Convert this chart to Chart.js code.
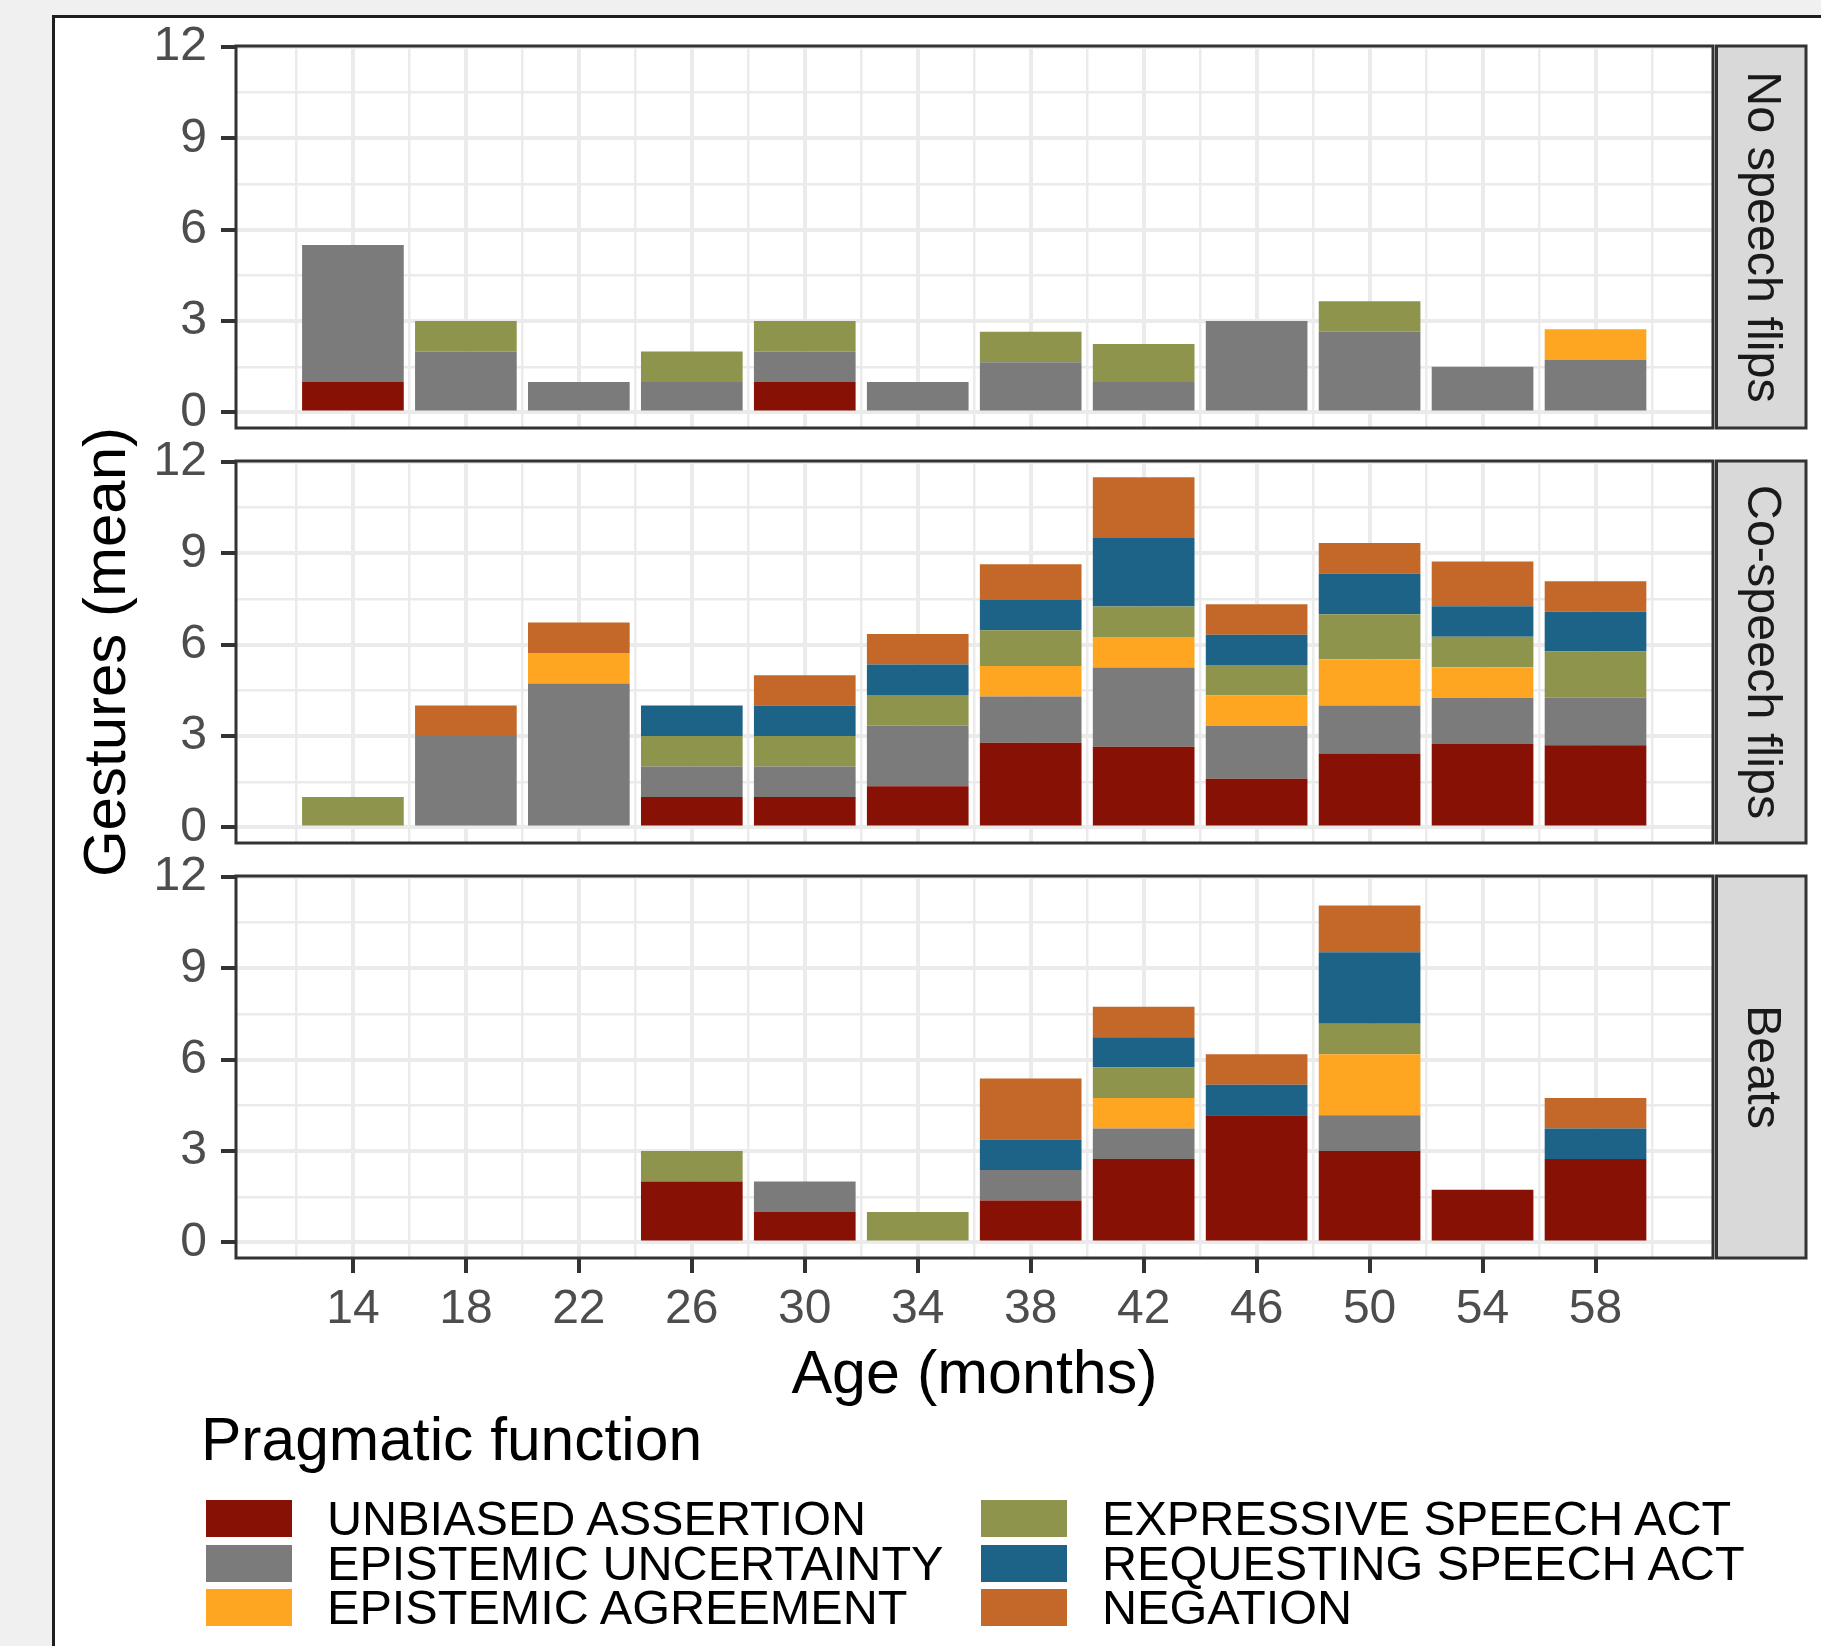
<!DOCTYPE html>
<html>
<head>
<meta charset="utf-8">
<title>Gestures by age</title>
<script src="https://cdn.jsdelivr.net/npm/chart.js@4.4.1/dist/chart.umd.min.js"></script>
<style>
  html, body { margin: 0; padding: 0; }
  body {
    width: 1821px; height: 1646px; position: relative; overflow: hidden;
    background: #f0f0f0; font-family: "Liberation Sans", Arial, sans-serif;
  }
  #frame {
    position: absolute; left: 52px; top: 15px; right: 0; bottom: 0;
    background: #fff; border-left: 3px solid #1e1e1e; border-top: 3px solid #1e1e1e;
  }
  canvas { position: absolute; left: 0; }
  #legendTitle {
    position: absolute; left: 201px; top: 1409px;
    font-size: 60.5px; line-height: 60px; color: #000; white-space: nowrap;
  }
  .item { position: absolute; height: 37px; line-height: 37px; font-size: 48.6px; color: #000; white-space: nowrap; }
  .key { position: absolute; left: 0; top: 0; width: 86px; height: 37px; }
  .label { position: absolute; top: 0; }
</style>
</head>
<body>
<div id="frame"></div>
<canvas id="panel0" width="1821" height="462" style="top:6px"></canvas>
<canvas id="panel1" width="1821" height="462" style="top:421px"></canvas>
<canvas id="panel2" width="1821" height="575" style="top:836px"></canvas>
<div id="legendTitle">Pragmatic function</div>
<div id="legend"></div>

<script>
// ages on the x axis (months) and grid positions
const ages = [14, 18, 22, 26, 30, 34, 38, 42, 46, 50, 54, 58];
const xMinorTicks = [12, 16, 20, 24, 28, 32, 36, 40, 44, 48, 52, 56, 60];
const yTicks = [0, 3, 6, 9, 12];
const yMinorTicks = [1.5, 4.5, 7.5, 10.5];

const stripNames = ["No speech flips", "Co-speech flips", "Beats"];
const functionNames = [
  "UNBIASED ASSERTION", "EPISTEMIC UNCERTAINTY", "EPISTEMIC AGREEMENT",
  "EXPRESSIVE SPEECH ACT", "REQUESTING SPEECH ACT", "NEGATION"
];
const functionColors = ["#861104", "#7b7b7b", "#fea621", "#8e944b", "#1d6387", "#c36829"];

// No speech flips
const nsUnbiased    = [1, 0, 0, 0, 1, 0, 0, 0, 0, 0, 0, 0];
const nsUncertainty = [4.5, 2, 1, 1, 1, 1, 1.65, 1, 3, 2.65, 1.5, 1.73];
const nsAgreement   = [0, 0, 0, 0, 0, 0, 0, 0, 0, 0, 0, 1];
const nsExpressive  = [0, 1, 0, 1, 1, 0, 1, 1.25, 0, 1, 0, 0];
const nsRequesting  = [0, 0, 0, 0, 0, 0, 0, 0, 0, 0, 0, 0];
const nsNegation    = [0, 0, 0, 0, 0, 0, 0, 0, 0, 0, 0, 0];

// Co-speech flips
const csUnbiased    = [0, 0, 0, 1, 1, 1.35, 2.78, 2.65, 1.6, 2.43, 2.74, 2.7];
const csUncertainty = [0, 3, 4.73, 1, 1, 2, 1.52, 2.6, 1.73, 1.57, 1.52, 1.56];
const csAgreement   = [0, 0, 1, 0, 0, 0, 1, 1, 1, 1.52, 1, 0];
const csExpressive  = [1, 0, 0, 1, 1, 1, 1.17, 1, 1, 1.48, 1, 1.52];
const csRequesting  = [0, 0, 0, 1, 1, 1, 1, 2.25, 1, 1.34, 1, 1.3];
const csNegation    = [0, 1, 1, 0, 1, 1, 1.17, 2, 1, 1, 1.47, 1];

// Beats
const bUnbiased    = [0, 0, 0, 2, 1, 0, 1.38, 2.74, 4.18, 3, 1.73, 2.74];
const bUncertainty = [0, 0, 0, 0, 1, 0, 1, 1, 0, 1.18, 0, 0];
const bAgreement   = [0, 0, 0, 0, 0, 0, 0, 1, 0, 2, 0, 0];
const bExpressive  = [0, 0, 0, 1, 0, 1, 0, 1, 0, 1, 0, 0];
const bRequesting  = [0, 0, 0, 0, 0, 0, 1, 1, 1, 2.35, 0, 1];
const bNegation    = [0, 0, 0, 0, 0, 0, 2, 1, 1, 1.53, 0, 1];

const panelSeries = [
  [nsUnbiased, nsUncertainty, nsAgreement, nsExpressive, nsRequesting, nsNegation],
  [csUnbiased, csUncertainty, csAgreement, csExpressive, csRequesting, csNegation],
  [bUnbiased, bUncertainty, bAgreement, bExpressive, bRequesting, bNegation]
];

const X_MIN = 9.86, X_MAX = 62.16;
const Y_MIN = -0.51, Y_MAX = 12.03;
const yGrid = yTicks.concat(yMinorTicks).sort((a, b) => a - b);

Chart.defaults.font.family = '"Liberation Sans", Arial, sans-serif';

// panel border + facet strip on the right
const panelFrame = {
  id: "panelFrame",
  afterDraw(chart, args, opts) {
    const { ctx, chartArea: a } = chart;
    const h = a.bottom - a.top;
    ctx.save();
    ctx.lineWidth = 3;
    ctx.strokeStyle = "#333333";
    ctx.strokeRect(a.left, a.top, a.right - a.left, h);
    const sx = a.right + 3.5, sw = 89.5;
    ctx.fillStyle = "#d9d9d9";
    ctx.fillRect(sx, a.top, sw, h);
    ctx.strokeRect(sx, a.top, sw, h);
    ctx.translate(sx + sw / 2, a.top + h / 2);
    ctx.rotate(Math.PI / 2);
    ctx.fillStyle = "#1a1a1a";
    ctx.font = '48.5px "Liberation Sans", Arial, sans-serif';
    ctx.textAlign = "center";
    ctx.textBaseline = "middle";
    ctx.fillText(opts.label, 0, 0);
    ctx.restore();
  }
};

panelSeries.forEach((series, p) => {
  const isLast = p === panelSeries.length - 1;
  const isMid = p === 1;
  new Chart(document.getElementById("panel" + p), {
    type: "bar",
    data: {
      datasets: functionNames.map((name, k) => ({
        label: name,
        data: ages.map((age, i) => ({ x: age, y: series[k][i] })),
        backgroundColor: functionColors[k],
        borderWidth: 0,
        barPercentage: 0.9,
        categoryPercentage: 1,
        inflateAmount: 0
      }))
    },
    options: {
      responsive: false,
      animation: false,
      devicePixelRatio: 1,
      layout: { padding: { left: 0, right: 108, top: 40, bottom: isLast ? 4 : 40 } },
      plugins: {
        legend: { display: false },
        tooltip: { enabled: false },
        panelFrame: { label: stripNames[p] }
      },
      scales: {
        x: {
          type: "linear",
          min: X_MIN, max: X_MAX,
          bounds: "data",
          offset: false,
          stacked: true,
          afterBuildTicks: (s) => { s.ticks = ages.map((v) => ({ value: v })); },
          afterFit: (s) => { s.height = isLast ? 149 : 0; },
          ticks: {
            display: isLast, autoSkip: false, maxRotation: 0, padding: 12.5,
            color: "#4d4d4d", font: { size: 48, lineHeight: 1 }
          },
          grid: {
            offset: false, color: "#ebebeb", lineWidth: 4,
            drawTicks: isLast, tickLength: 15, tickWidth: 4, tickColor: "#333333"
          },
          border: { display: false },
          title: {
            display: isLast, text: "Age (months)", color: "#000000",
            font: { size: 61, lineHeight: 1 }, padding: { top: 0, bottom: 0 }
          }
        },
        xMinor: {
          type: "linear",
          position: "bottom",
          min: X_MIN, max: X_MAX,
          bounds: "data",
          offset: false,
          afterBuildTicks: (s) => { s.ticks = xMinorTicks.map((v) => ({ value: v })); },
          afterFit: (s) => { s.height = 0; },
          ticks: { display: false },
          grid: { offset: false, color: "#ebebeb", lineWidth: 2.5, drawTicks: false },
          border: { display: false }
        },
        y: {
          type: "linear",
          min: Y_MIN, max: Y_MAX,
          bounds: "data",
          stacked: true,
          afterBuildTicks: (s) => { s.ticks = yGrid.map((v) => ({ value: v })); },
          afterFit: (s) => { s.width = 236; },
          ticks: {
            autoSkip: false, padding: 14, color: "#4d4d4d",
            font: { size: 48, lineHeight: 1 },
            callback: (v) => (yTicks.includes(v) ? String(v) : "")
          },
          grid: {
            color: "#ebebeb",
            lineWidth: (c) => (c.tick && yTicks.includes(c.tick.value) ? 4 : 2.5),
            tickLength: 15, tickWidth: 4,
            tickColor: (c) => (c.tick && yTicks.includes(c.tick.value) ? "#333333" : "rgba(0,0,0,0)")
          },
          border: { display: false },
          title: {
            display: isMid, text: "Gestures (mean)", color: "#000000",
            font: { size: 60, lineHeight: 1 }, padding: { top: 78, bottom: 0 }
          }
        }
      }
    },
    plugins: [panelFrame]
  });
});

// legend: 3 rows, filled column by column
const legend = document.getElementById("legend");
const keyLeft = [206, 981];
const textLeft = [327, 1102];
functionNames.forEach((name, k) => {
  const col = Math.floor(k / 3), row = k % 3;
  const item = document.createElement("div");
  item.className = "item";
  item.style.left = keyLeft[col] + "px";
  item.style.top = (1500 + row * 44.5) + "px";
  const key = document.createElement("div");
  key.className = "key";
  key.style.background = functionColors[k];
  const label = document.createElement("span");
  label.className = "label";
  label.style.left = (textLeft[col] - keyLeft[col]) + "px";
  label.textContent = name;
  item.appendChild(key);
  item.appendChild(label);
  legend.appendChild(item);
});
</script>
</body>
</html>
